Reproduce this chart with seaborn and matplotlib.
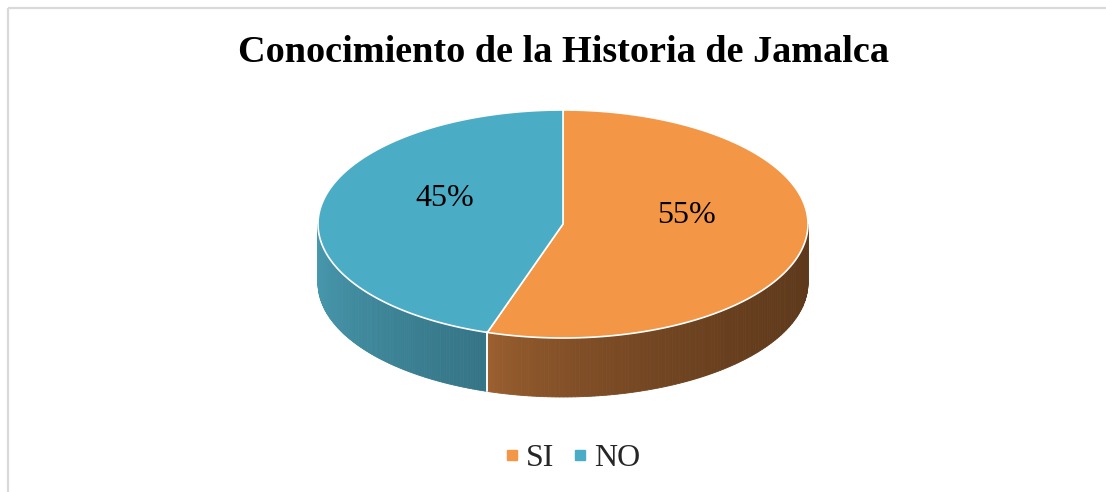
import numpy as np
import matplotlib
matplotlib.use("Agg")
import matplotlib.pyplot as plt
import seaborn as sns
from matplotlib.patches import Polygon, Rectangle
from matplotlib.lines import Line2D
from matplotlib.colors import to_rgb

# --- data ---
categories = ["SI", "NO"]
percentages = [55, 45]
top_colors = ["#F39646", "#4BACC6"]
side_light = ["#A06231", "#489AAF"]
side_dark = ["#5E391B", "#357486"]
title = "Conocimiento de la Historia de Jamalca"

# --- style ---
sns.set_theme(style="white")
plt.rcParams["font.family"] = ["Liberation Serif", "DejaVu Serif"]

fig = plt.figure(figsize=(11.06, 4.92), dpi=100)
ax = fig.add_axes([0, 0, 1, 1])
ax.set_xlim(0, 1106)
ax.set_ylim(492, 0)
ax.axis("off")

# light chart frame (cut by the image edge on right/bottom)
ax.add_patch(Rectangle((8, 8), 1300, 700, fill=False, edgecolor="#D9D9D9", lw=1.6))

# pie geometry (pixels)
cx, cy = 563, 224
rx, ry = 245, 114
depth = 59


def pt(theta_deg, r=1.0, dz=0.0):
    t = np.radians(theta_deg)
    return cx + r * rx * np.cos(t), cy - r * ry * np.sin(t) + dz


# wedge angles (start at 12 o'clock, clockwise)
fracs = np.array(percentages, dtype=float) / sum(percentages)
starts, ends = [], []
a = 90.0
for f in fracs:
    starts.append(a)
    ends.append(a - f * 360)
    a -= f * 360

# --- side walls (only the front half, 180..360 deg) ---
for i in range(len(categories)):
    hi, lo = starts[i], ends[i]
    segs = []
    for k in range(-1, 2):
        s0, s1 = 180 + 360 * k, 360 + 360 * k
        a0, a1 = max(lo, s0), min(hi, s1)
        if a1 > a0:
            segs.append((a0, a1))
    for a0, a1 in segs:
        x_left = pt(a0)[0]
        x_right = pt(a1)[0]
        angs = np.linspace(a0, a1, 120)
        c0, c1 = np.array(to_rgb(side_light[i])), np.array(to_rgb(side_dark[i]))
        for j in range(len(angs) - 1):
            p1, p2 = pt(angs[j]), pt(angs[j + 1])
            xm = 0.5 * (p1[0] + p2[0])
            t = (xm - min(x_left, x_right)) / abs(x_right - x_left)
            t = np.clip(t, 0, 1) ** 0.6
            col = c0 + (c1 - c0) * t
            quad = [p1, p2, (p2[0], p2[1] + depth), (p1[0], p1[1] + depth)]
            ax.add_patch(Polygon(quad, closed=True, facecolor=col, edgecolor=col, lw=0.6))
        # white seam at the wedge boundary on the wall
        for b in (a0, a1):
            if b in (starts[i], ends[i]) and 180 < (b % 360) < 360:
                x, y = pt(b)
                ax.plot([x, x], [y, y + depth], color="white", lw=1.2)

# --- top surface ---
for i in range(len(categories)):
    angs = np.linspace(starts[i], ends[i], 200)
    pts = [(cx, cy)] + [pt(t) for t in angs]
    ax.add_patch(Polygon(pts, closed=True, facecolor=top_colors[i],
                         edgecolor="white", lw=1.2, joinstyle="round"))

# percentage labels
for i in range(len(categories)):
    mid = 0.5 * (starts[i] + ends[i])
    x, y = pt(mid, r=0.5)
    ax.text(x + 3, y - 17, f"{percentages[i]}%", ha="center", va="center",
            fontsize=23, color="black")

# title
ax.text(563, 53, title, ha="center", va="center", fontsize=27.5,
        fontweight="bold", color="black")

# legend
handles = [Line2D([], [], marker="s", linestyle="none", markersize=7,
                  markerfacecolor=c, markeredgecolor=c) for c in top_colors]
fig.legend(handles, categories, loc="center", bbox_to_anchor=(0.516, 0.069),
           ncol=2, frameon=False, fontsize=23, handletextpad=0.1,
           columnspacing=0.45, handlelength=0.7)

fig.savefig("out.png", dpi=100, facecolor="white")
